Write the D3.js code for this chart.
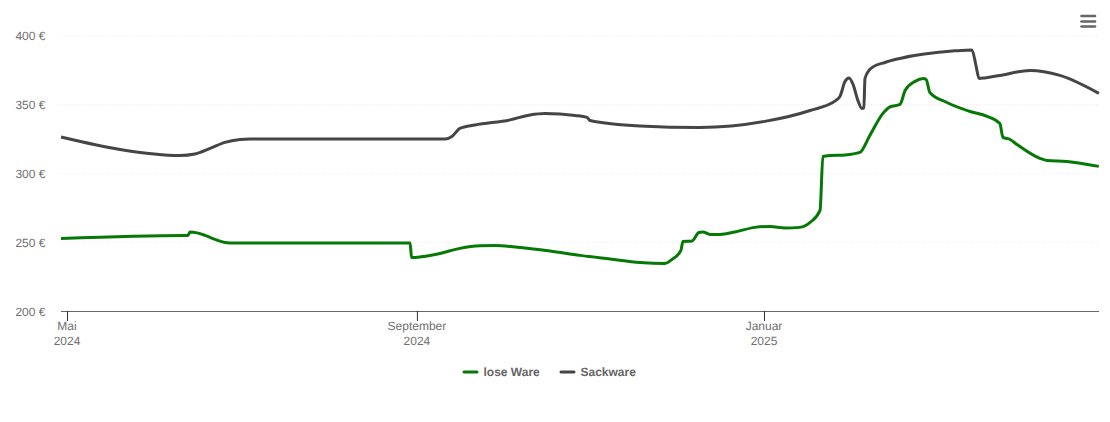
<!DOCTYPE html>
<html><head><meta charset="utf-8">
<script src="https://cdnjs.cloudflare.com/ajax/libs/d3/7.8.5/d3.min.js"></script>
<style>
html,body{margin:0;padding:0;background:#fff;overflow:hidden}
svg{display:block;font-family:"Liberation Sans",Arial,sans-serif;text-rendering:geometricPrecision}
</style></head><body>
<svg id="c" width="1110" height="422"></svg>
<script>
const yTicks=[200,250,300,350,400];
const xTicks=[{date:"2024-05-01",month:"Mai",year:"2024"},{date:"2024-09-01",month:"September",year:"2024"},{date:"2025-01-01",month:"Januar",year:"2025"}];
const seriesNames=["lose Ware","Sackware"];
const seriesColors=["#067806","#454545"];
// days since 1 May 2024
const loseDays=[-2.1,41.5,42.5,43.2,45.7,48.5,52,55.5,59,120.6,121.1,124.1,131.1,138.1,145.2,150.4,157.5,169.8,180.3,190.9,201.4,210.2,212.7,215.8,216.5,219.7,222.1,223.5,226,229.5,234.8,241.8,247.1,252.4,257.6,261.2,264.7,265.7,268.2,273.5,278.7,282.2,286.8,289.3,292.8,294.6,298.1,301,302,303.3,309.3,317.4,323.4,327.9,329,331.5,333.9,342,344.5,351.5,362.7];
const loseVals=[252.6,254.8,254.8,257.2,256.6,254.8,251.9,249.7,249.2,249.3,238.8,239.2,241.7,245.4,247.3,247.5,246.4,243.5,240.3,237.7,235.2,234.5,237.4,243.9,250.4,250.8,256.9,257.3,255.5,255.5,257.3,260.6,261.3,260.2,260.6,264.2,272.9,312,312.7,313.1,314.9,327.2,343.2,347.9,349.7,359.8,366.4,368.5,367.8,358.4,351.1,344.6,341,335.9,325.8,324.3,320.7,310.6,309.1,308.4,304.8];
const sackDays=[-2.1,18.6,39.7,45,50.3,55.5,60.8,64.3,132.9,135.3,138.1,143.4,155.7,162.7,168,173.3,178.6,182.8,183.8,201.4,222.5,245.3,261.2,270.3,271.7,273.5,274.9,276.3,278,279.4,280.1,280.5,282.2,283.3,287.5,292.8,312.1,318.1,319.5,320.6,322.7,327.9,338.5,349,362.7];
const sackVals=[326.1,317.1,312.7,313.8,317.8,322.2,324.3,324.7,324.7,326.5,332.3,334.8,338.5,342.1,343.2,342.8,341.7,340.3,338.1,334.1,333,337.4,345.3,352.6,355.5,366.4,368.9,364.2,352.6,346.8,347.2,368.5,375.1,376.9,380.1,383,388.5,389.2,378,368.5,368.9,370.7,374.3,370.7,357.7];

const DAY=864e5, t0=Date.UTC(2024,4,1);
const toDate=d=>new Date(t0+d*DAY);
const x=d3.scaleUtc().domain([new Date("2024-05-01"),new Date("2025-01-01")]).range([67,764]);
const y=d3.scaleLinear().domain([200,400]).range([311,35]);
const L=61,R=1099;
const svg=d3.select("#c");

// y axis + grid
const gy=svg.append("g").attr("transform",`translate(${L},0)`)
  .call(d3.axisLeft(y).tickValues(yTicks).tickSize(0).tickPadding(15.6).tickFormat(d=>d+" €"));
gy.select(".domain").remove();
gy.selectAll("text").attr("font-family",'"Liberation Sans",Arial,sans-serif').attr("font-size",12).attr("fill","#707070").attr("dy","0.34em");
gy.selectAll(".tick line").attr("x1",0).attr("x2",R-L).attr("stroke","#ececec").attr("stroke-dasharray","1,2").attr("stroke-width",1);
gy.selectAll(".tick").filter(d=>d===200).select("line").remove();

// lines
const line=d3.line().x(d=>x(d[0])).y(d=>y(d[1])).curve(d3.curveMonotoneX);
[[loseDays,loseVals],[sackDays,sackVals]].forEach(([ds,vs],i)=>{
  svg.append("path").datum(ds.map((d,j)=>[toDate(d),vs[j]])).attr("d",line)
    .attr("fill","none").attr("stroke",seriesColors[i]).attr("stroke-width",3).attr("stroke-linejoin","round").attr("stroke-linecap","butt");
});

// x axis
const gx=svg.append("g").attr("transform",`translate(0,${y(200)})`)
  .call(d3.axisBottom(x).tickValues(xTicks.map(t=>new Date(t.date))).tickSize(10).tickSizeOuter(0).tickFormat(()=>""));
gx.select(".domain").attr("d",`M${L},0.5H${R}`).attr("stroke","#666").attr("stroke-width",1);
gx.selectAll(".tick line").attr("stroke","#333").attr("stroke-width",1);
gx.selectAll(".tick").each(function(d,i){
  const t=d3.select(this).select("text").attr("y",19).attr("dy",null).attr("text-anchor","middle")
    .attr("font-family",'"Liberation Sans",Arial,sans-serif').attr("font-size",12).attr("fill","#707070");
  t.append("tspan").attr("x",-0.5).attr("y",19).text(xTicks[i].month);
  t.append("tspan").attr("x",-0.5).attr("y",34).text(xTicks[i].year);
});

// legend
const legendX=[464,561];
seriesNames.forEach((n,i)=>{
  const g=svg.append("g").attr("transform",`translate(${legendX[i]},372)`);
  g.append("line").attr("x1",0).attr("x2",13).attr("stroke",seriesColors[i]).attr("stroke-width",3).attr("stroke-linecap","round");
  g.append("text").attr("x",19.5).attr("y",4).attr("font-size",12).attr("font-weight","bold").attr("fill","#666").text(n);
});

// menu icon
[16,21.5,26.5].forEach(v=>svg.append("line").attr("x1",1081.5).attr("x2",1095).attr("y1",v).attr("y2",v).attr("stroke","#666").attr("stroke-width",2.6).attr("stroke-linecap","round"));
</script>
</body></html>
